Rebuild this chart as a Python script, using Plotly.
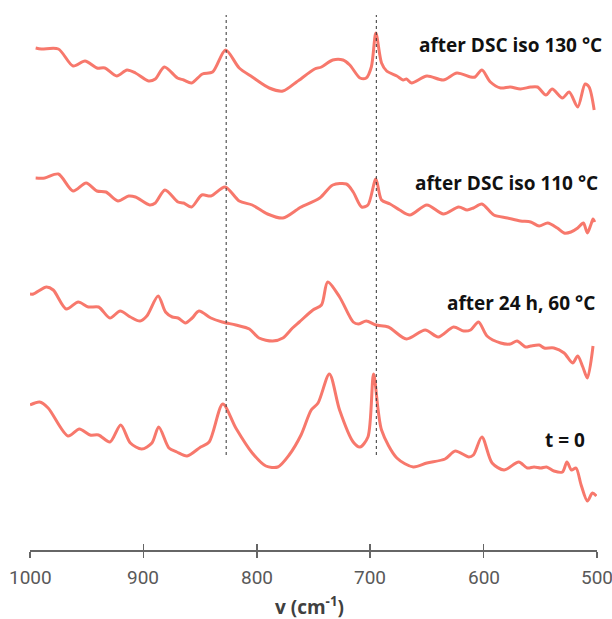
import plotly.graph_objects as go

# Wavenumbers (cm-1) and relative intensities (arbitrary units, stacked offsets)
wn_130 = [995, 990, 975, 962, 951.5, 941, 934, 923.5, 914.5, 907, 895.5, 889.5, 881.5, 870, 864.5, 857.5,
          848, 839, 827.5, 815.5, 804, 789, 777, 765, 762.5, 749, 743, 733, 724, 718, 709, 703.5, 699, 695,
          690, 685.5, 676.5, 671, 668, 663.5, 650, 635.5, 623.5, 611.5, 607.5, 601.5, 594, 585, 576.5, 567.5,
          558.5, 552.5, 545, 539.5, 530.5, 524.5, 517, 510.5, 507, 502.5]
int_130 = [505, 504, 504, 487, 492, 485, 485, 477, 483, 480, 472, 474, 486, 475, 473, 470,
           479, 481, 503, 485, 476, 465, 462, 471, 473, 484, 486, 493, 493, 488, 475, 475, 486, 520,
           490, 482, 477, 473, 474, 470, 477, 473, 480, 476, 476, 483, 471, 465, 466, 464,
           466, 466, 458, 464, 455, 461, 446, 469, 466, 443]

wn_110 = [995, 987, 975, 962, 950.5, 941, 933, 922.5, 913, 907, 894.5, 889.5, 881, 869.5, 864.5, 857.5,
          848.5, 840.5, 828, 815.5, 804, 790.5, 777, 765, 762.5, 744.5, 733, 721, 715, 707.5, 702, 695,
          690, 682.5, 674, 665, 650, 635.5, 622, 614.5, 609, 601.5, 591, 579, 567.5, 558.5, 551, 543.5,
          535, 529, 523, 517, 512, 508.5, 505.5, 503.5, 502]
int_110 = [375, 375, 379, 362, 370, 362, 361, 352, 357, 356, 348, 350, 363, 351, 350, 346,
           358, 357, 366, 352, 348, 339, 335, 343, 345, 355, 368, 369, 361, 346, 348, 374,
           353, 349, 343, 338, 348, 339, 346, 343, 345, 349, 338, 335, 332, 331, 327, 330,
           325, 320, 321, 325, 330, 320, 328, 334, 331]

wn_24h = [1000, 997, 985.5, 979.5, 968, 957.5, 948.5, 939.5, 929.5, 920.5, 911.5, 903, 897, 887, 880.5,
          874.5, 869.5, 863, 857, 851, 840.5, 830.5, 818.5, 806.5, 798, 786, 777, 768.5, 762.5, 750.5,
          743, 737.5, 727, 715, 710.5, 703.5, 695, 684, 668, 651.5, 640, 626.5, 617.5, 611.5, 604.5, 597,
          585, 576.5, 570.5, 563, 558.5, 551, 546.5, 538, 529, 521.5, 517, 512.5, 508.5, 503.5]
int_24h = [259, 259, 266, 263, 244, 251, 246, 246, 235, 242, 236, 232, 237, 257, 241,
           236, 235, 230, 235, 242, 235, 231, 228, 224, 215, 212, 215, 225, 231, 243,
           248, 271, 256, 231, 229, 232, 228, 226, 214, 223, 216, 226, 222, 223, 231, 217,
           210, 209, 212, 206, 207, 208, 205, 205, 200, 190, 197, 186, 175, 207]

wn_t0 = [1000, 991.5, 984, 966.5, 956.5, 947, 939.5, 929.5, 920, 911.5, 901.5, 892.5, 886.5, 877.5, 870.5,
         861.5, 849.5, 842, 830, 818.5, 804, 792, 781.5, 771.5, 761, 752, 746, 736, 727, 715, 709, 702,
         697, 690, 676.5, 662, 650, 634, 625, 613, 609, 601.5, 592.5, 582, 569, 561.5, 555.5, 549.5,
         544.5, 538, 530.5, 526.5, 522.5, 518.5, 514, 508.5, 504, 500.5]
int_t0 = [148, 151, 145, 117, 124, 118, 118, 111, 128, 110, 104, 110, 126, 105, 101,
          97, 106, 111, 149, 125, 100, 87, 86, 98, 118, 143, 150, 179, 143, 111, 106, 116,
          179, 123, 95, 86, 90, 94, 102, 96, 98, 116, 90, 83, 91, 85, 86, 85,
          86, 82, 81, 91, 83, 85, 68, 52, 60, 57]

series = [
    ("after DSC iso 130 °C", wn_130, int_130),
    ("after DSC iso 110 °C", wn_110, int_110),
    ("after 24 h, 60 °C", wn_24h, int_24h),
    ("t = 0", wn_t0, int_t0),
]

marker_lines = [827, 694.6]
tick_vals = [1000, 900, 800, 700, 600, 500]
tick_text = ["1000", "900", "800", "700", "600", "500"]

line_color = "#F7786C"

fig = go.Figure()
for name, xs, ys in series:
    fig.add_trace(go.Scatter(x=xs, y=ys, mode="lines", name=name,
                             line=dict(color=line_color, width=3, shape="spline", smoothing=0.8),
                             showlegend=False, hoverinfo="skip"))

# dummy trace for a second x axis (inside ticks, so tick marks cross the axis line)
fig.add_trace(go.Scatter(x=[1000, 500], y=[None, None], xaxis="x2", showlegend=False, hoverinfo="skip"))

for xv in marker_lines:
    fig.add_shape(type="line", xref="x", yref="y", x0=xv, x1=xv, y0=98, y1=538,
                  line=dict(color="#333333", width=1, dash="dot"))

# series labels: right edge (fraction of plot width) and vertical centre (data units)
label_pos = [(1.0129, 508), (1.0058, 370), (1.0, 250), (0.9824, 113)]
for (name, _, _), (lx, ly) in zip(series, label_pos):
    fig.add_annotation(x=lx, y=ly, xref="paper", yref="y", text=name, showarrow=False,
                       xanchor="right", yanchor="middle",
                       font=dict(family="Open Sans", size=19, color="#111111", weight="bold"))

# tick labels (drawn as annotations so the last one is not dropped at the page edge)
for tv, tt in zip(tick_vals, tick_text):
    fig.add_annotation(x=tv, y=-0.0491, xref="x", yref="paper", text=tt, showarrow=False,
                       xanchor="center", yanchor="middle",
                       font=dict(family="Roboto", size=19, color="#595959"))

fig.add_annotation(x=0.493, y=-0.1018, xref="paper", yref="paper", text="v (cm<sup>-1</sup>)",
                   showarrow=False, xanchor="center", yanchor="middle",
                   font=dict(family="Open Sans", size=19, color="#404040", weight="bold"))

axis_common = dict(range=[1000, 500], tickvals=tick_vals, showgrid=False, zeroline=False,
                   showline=True, linecolor="#666666", linewidth=2, ticklen=6, tickwidth=1.5,
                   tickcolor="#666666", showticklabels=False)
fig.update_layout(
    width=612, height=619,
    margin=dict(l=30, r=15.3, t=0, b=69),
    paper_bgcolor="white", plot_bgcolor="white",
    hovermode=False,
    xaxis=dict(**axis_common, ticks="outside"),
    xaxis2=dict(**axis_common, ticks="inside", overlaying="x", side="bottom", anchor="y"),
    yaxis=dict(range=[3, 553], visible=False),
)

fig.write_html(
    "out.html",
    config={"displayModeBar": False, "staticPlot": True},
    post_script="document.body.style.margin='0';document.body.style.overflow='hidden';"
                "document.documentElement.style.overflow='hidden';",
)
